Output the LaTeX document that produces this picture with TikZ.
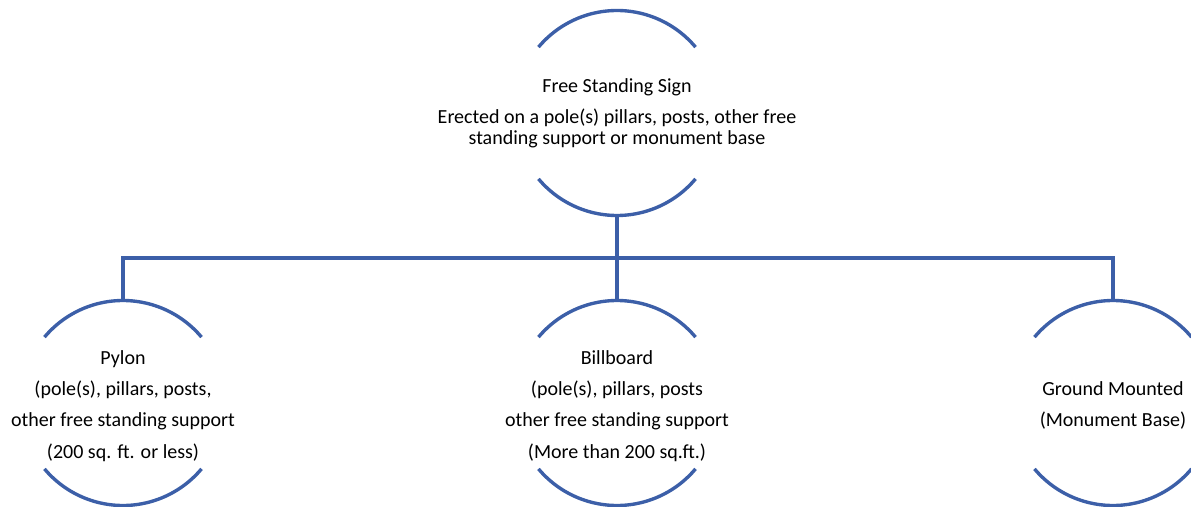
\documentclass[tikz,border=0pt]{standalone}
\usepackage{fontspec}
\setmainfont{Carlito}
\usetikzlibrary{positioning}

\definecolor{signblue}{HTML}{3C5FA8}

\tikzset{
  signnode/.style={circle, minimum size=133.25pt, inner sep=0pt, outer sep=0pt},
  signtext/.style={align=center, inner sep=0pt, font=\fontsize{13}{20.2}\selectfont},
  arcline/.style={draw=signblue, line width=2.2pt},
  busline/.style={draw=signblue, line width=2.2pt}
}

\newcommand{\halfarcs}[1]{%
  \draw[arcline] (#1.40) arc[start angle=40, end angle=140, radius=102.5];
  \draw[arcline] (#1.220) arc[start angle=220, end angle=320, radius=102.5];
}

\begin{document}
\begin{tikzpicture}[x=0.65pt, y=0.65pt]
\useasboundingbox (0,0) rectangle (1191,506);

\node[signnode, label={[signtext, font=\fontsize{13}{13.7}\selectfont]center:{Free Standing Sign\\[6.5pt]Erected on a pole(s) pillars, posts, other free\\standing support or monument base}}] (sign) at (617,393) {};

\node[signnode, label={[signtext, yshift=-2pt]center:{Pylon\\(pole(s), pillars, posts,\\other free standing support\\(200 sq. ft. or less)}}] (pylon) at (123,103) {};
\node[signnode, label={[signtext, yshift=-2pt]center:{Billboard\\(pole(s), pillars, posts\\other free standing support\\(More than 200 sq.ft.)}}] (billboard) at (617,103) {};
\node[signnode, label={[signtext, yshift=-1.5pt]center:{Ground Mounted\\(Monument Base)}}] (ground) at (1113,103) {};

\halfarcs{sign}
\halfarcs{pylon}
\halfarcs{billboard}
\halfarcs{ground}

\coordinate (bus) at (617,248);
\draw[busline] (pylon.north) |- (bus) -| (ground.north);
\draw[busline] (sign.south) -- (billboard.north);

\end{tikzpicture}
\end{document}
